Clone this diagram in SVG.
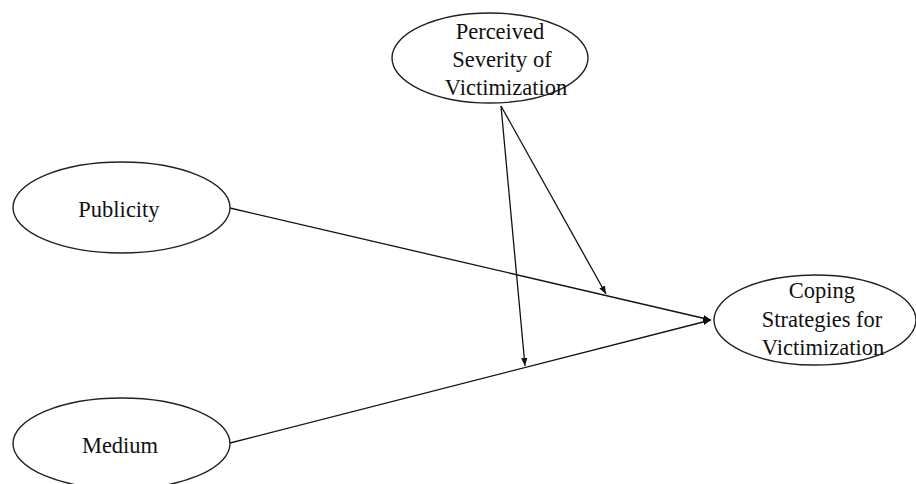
<svg xmlns="http://www.w3.org/2000/svg" width="916" height="484" viewBox="0 0 916 484">
<style>
.node ellipse{fill:#fff;stroke:#222;stroke-width:1.4}
.node text{font-family:"Liberation Serif","Times New Roman",serif;font-size:22.5px;fill:#111;text-anchor:middle}
.conn line{stroke:#111;stroke-width:1.3;fill:none;marker-end:url(#arr)}
</style>
<defs>
<marker id="arr" viewBox="0 0 10 8" refX="10" refY="4" markerWidth="8" markerHeight="6.4" markerUnits="userSpaceOnUse" orient="auto">
<path d="M0,0 L10,4 L0,8 Z" fill="#111"/>
</marker>
</defs>
<rect width="916" height="484" fill="#fff"/>
<g id="connectors" class="conn">
<line x1="230" y1="208" x2="711" y2="320"/>
<line x1="230" y1="443" x2="711" y2="320"/>
<line x1="501" y1="106" x2="606" y2="294"/>
<line x1="501" y1="106" x2="525" y2="366"/>
</g>
<g id="perceived" class="node">
<ellipse cx="490" cy="58" rx="98" ry="45"/>
<text x="500" y="39">Perceived</text>
<text x="502" y="67">Severity of</text>
<text x="506" y="95">Victimization</text>
</g>
<g id="publicity" class="node">
<ellipse cx="121.5" cy="207.5" rx="108.5" ry="45.5"/>
<text x="119" y="217">Publicity</text>
</g>
<g id="medium" class="node">
<ellipse cx="121.5" cy="443.5" rx="108.5" ry="45.5"/>
<text x="120" y="453">Medium</text>
</g>
<g id="coping" class="node">
<ellipse cx="815" cy="320" rx="101" ry="45"/>
<text x="822" y="298">Coping</text>
<text x="822" y="327">Strategies for</text>
<text x="823" y="355">Victimization</text>
</g>
</svg>
